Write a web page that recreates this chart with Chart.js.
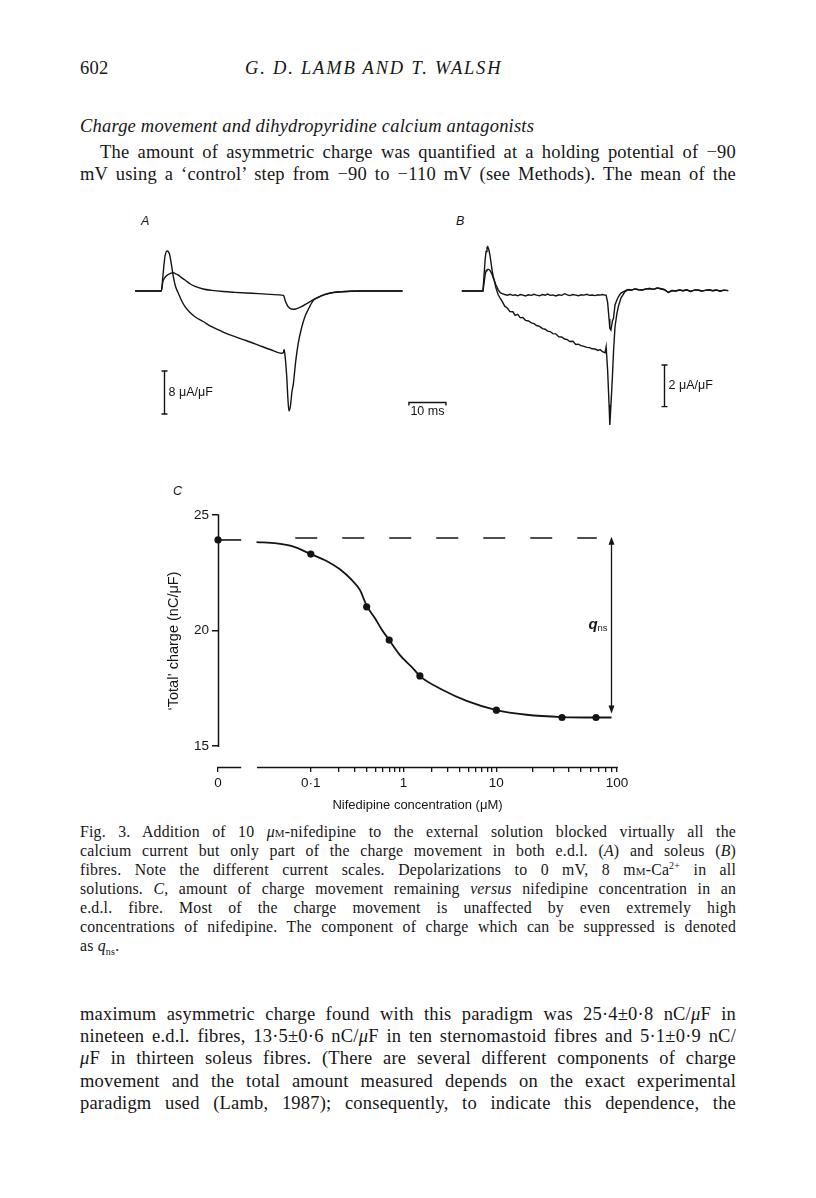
<!DOCTYPE html>
<html>
<head>
<meta charset="utf-8">
<script src="https://cdn.jsdelivr.net/npm/chart.js@4.4.1/dist/chart.umd.min.js"></script>
<style>
  body { margin: 0; background: #fff; }
  #page { position: relative; width: 816px; height: 1198px; background: #fff; color: #161616;
          font-family: "Liberation Serif", "Times New Roman", serif; overflow: hidden; }
  .ln { position: absolute; left: 80px; width: 656px; height: 22px; line-height: 22px; font-size: 18.5px;
        letter-spacing: 0.2px; text-align: justify; text-align-last: justify; white-space: nowrap; }
  .cap { font-size: 15.8px; height: 19px; line-height: 19px; letter-spacing: 0.2px; }
  .plain { text-align: left; text-align-last: left; width: auto; }
  .it { font-style: italic; }
  .sc { font-variant: small-caps; }
  sub, sup { line-height: 0; }
  .panel { position: absolute; font: italic 12.5px "Liberation Sans", Arial, sans-serif; color: #161616; }
  canvas { position: absolute; }
</style>
</head>
<body>
<div id="page">
  <div class="ln plain" style="top:57px">602</div>
  <div class="ln plain it" style="top:57px;left:245px;letter-spacing:1.8px">G. D. LAMB AND T. WALSH</div>
  <div class="ln plain it" style="top:115px">Charge movement and dihydropyridine calcium antagonists</div>
  <div class="ln" style="top:141px;left:100px;width:636px">The amount of asymmetric charge was quantified at a holding potential of −90</div>
  <div class="ln" style="top:163px">mV using a ‘control’ step from −90 to −110 mV (see Methods). The mean of the</div>

  <div class="panel" style="left:141px;top:214px">A</div>
  <div class="panel" style="left:456px;top:214px">B</div>
  <div class="panel" style="left:173px;top:484px">C</div>

  <canvas id="chartA" width="280" height="190" style="left:125px;top:235px"></canvas>
  <canvas id="chartB" width="340" height="200" style="left:400px;top:235px"></canvas>
  <canvas id="chartC" width="490" height="340" style="left:150px;top:480px"></canvas>

  <div class="ln cap" style="top:822px">Fig. 3. Addition of 10 <i>μ</i><span class="sc">m</span>-nifedipine to the external solution blocked virtually all the</div>
  <div class="ln cap" style="top:841px">calcium current but only part of the charge movement in both e.d.l. (<i>A</i>) and soleus (<i>B</i>)</div>
  <div class="ln cap" style="top:860px">fibres. Note the different current scales. Depolarizations to 0 mV, 8 m<span class="sc">m</span>-Ca<sup style="font-size:10px">2+</sup> in all</div>
  <div class="ln cap" style="top:879px">solutions. <i>C</i>, amount of charge movement remaining <i>versus</i> nifedipine concentration in an</div>
  <div class="ln cap" style="top:898px">e.d.l. fibre. Most of the charge movement is unaffected by even extremely high</div>
  <div class="ln cap" style="top:917px">concentrations of nifedipine. The component of charge which can be suppressed is denoted</div>
  <div class="ln cap plain" style="top:936px">as <i>q</i><sub style="font-size:10px">ns</sub>.</div>

  <div class="ln" style="top:1003px">maximum asymmetric charge found with this paradigm was 25·4±0·8 nC/<i>μ</i>F in</div>
  <div class="ln" style="top:1025px">nineteen e.d.l. fibres, 13·5±0·6 nC/<i>μ</i>F in ten sternomastoid fibres and 5·1±0·9 nC/</div>
  <div class="ln" style="top:1047px"><i>μ</i>F in thirteen soleus fibres. (There are several different components of charge</div>
  <div class="ln" style="top:1070px">movement and the total amount measured depends on the exact experimental</div>
  <div class="ln" style="top:1092px">paradigm used (Lamb, 1987); consequently, to indicate this dependence, the</div>
</div>

<script>
const ink = "#141414";
Chart.defaults.font.family = '"Liberation Sans", Arial, sans-serif';
Chart.defaults.color = ink;

// ---- A: e.d.l. fibre, current (uA/uF) vs time from step onset (ms) ----
const aTime = [-7.2, -0.1, 0.35, 0.9, 1.5, 2.1, 2.65, 3.15, 3.7, 4.5,
	5.35, 6.3, 7.65, 9.0, 11.2, 13.5, 16.6, 19.8, 22.8, 26.1,
	29.3, 32.4, 32.9, 33.1, 33.4, 33.8, 34.1, 34.4, 34.8, 35.2,
	35.6, 36.2, 36.9, 37.8, 38.7, 39.8, 41.0, 42.5, 44.1, 46.3,
	48.6, 53.1, 65.1];
const aNifedipine = [0, 0, 1.86, 2.55, 2.95, 3.2, 3.33, 3.41, 3.25, 2.95,
	2.5, 2.05, 1.35, 0.85, 0.38, 0.12, -0.1, -0.25, -0.37, -0.49,
	-0.62, -0.76, -0.8, -1.1, -1.8, -2.45, -2.85, -3.05, -3.28, -3.36,
	-3.41, -3.34, -3.18, -2.9, -2.55, -2.1, -1.6, -1.08, -0.64, -0.28,
	-0.13, 0, 0];
const aControl = [0, 0, 2.98, 6.52, 7.45, 6.89, 4.84, 2.66, 0.93, -0.43,
	-1.77, -2.92, -4.0, -4.79, -5.68, -6.65, -7.64, -8.51, -9.22, -10.06,
	-10.89, -11.6, -11.45, -10.86, -12.48, -15.96, -19.93, -22.35, -21.4, -18.8,
	-17.19, -13.2, -9.74, -6.89, -4.79, -3.17, -1.75, -1.15, -0.68, -0.3,
	-0.13, 0, 0];

// ---- B: soleus fibre ----
const bTime = [-5.8, -0.1, 0.3, 0.5, 0.75, 1.0, 1.2, 1.5, 1.8, 2.1,
	2.4, 2.7, 3.0, 3.4, 4.0, 4.6, 5.1, 5.8, 6.5, 7.2,
	8.0, 8.6, 9.3, 10, 10.7, 11.4, 12.2, 13, 13.7, 14.4,
	15.2, 16, 16.7, 17.4, 18.1, 18.8, 19.6, 20.4, 21.2, 22,
	22.7, 23.4, 24.2, 25, 25.7, 26.4, 27.2, 28, 28.7, 29.4,
	30.2, 31, 31.6, 32.2, 32.9, 33.2, 33.6, 34.0, 34.2, 34.5,
	34.9, 35.2, 35.6, 36.1, 36.5, 37.2, 38.3, 39.1, 40, 41,
	42, 43, 44, 45, 46, 47, 48, 49, 50, 51,
	52, 53, 54, 55, 56, 57, 58, 59, 60, 61,
	62, 63, 64, 65, 66.2];
const bNifedipine = [0, 0, 0.5, 0.78, 0.97, 1.02, 1.04, 1.04, 0.99, 0.9,
	0.78, 0.63, 0.49, 0.3, 0.07, -0.08, -0.13, -0.17, -0.2, -0.16,
	-0.21, -0.18, -0.23, -0.17, -0.2, -0.24, -0.18, -0.21, -0.16, -0.2,
	-0.23, -0.17, -0.2, -0.15, -0.21, -0.19, -0.24, -0.18, -0.21, -0.13,
	-0.19, -0.22, -0.17, -0.2, -0.23, -0.18, -0.2, -0.16, -0.21, -0.19,
	-0.22, -0.18, -0.2, -0.17, -0.2, -0.2, -0.55, -1.35, -1.79, -1.88,
	-1.44, -1.3, -0.67, -0.43, -0.28, -0.1, 0, 0.07, 0.04, 0.1,
	0.06, 0.05, 0.1, 0.12, 0.08, 0.14, 0.11, 0.06, -0.07, 0.02,
	0, 0.05, 0.01, 0.06, -0.02, 0.04, 0.05, 0, 0.03, 0.06,
	0.01, 0.05, -0.01, 0.04, 0.02];
const bControl = [0, 0, 1.0, 1.5, 1.9, 2.08, 2.13, 1.98, 1.73, 1.35,
	0.97, 0.69, 0.48, 0.16, -0.17, -0.36, -0.5, -0.73, -0.82, -0.99,
	-1.0, -1.17, -1.12, -1.29, -1.27, -1.41, -1.44, -1.53, -1.57, -1.66,
	-1.7, -1.81, -1.84, -1.93, -1.95, -2.05, -2.06, -2.2, -2.21, -2.31,
	-2.34, -2.43, -2.42, -2.57, -2.56, -2.63, -2.66, -2.71, -2.72, -2.78,
	-2.79, -2.86, -2.82, -2.92, -2.97, -2.68, -3.8, -5.48, -6.44, -5.48,
	-4.12, -2.9, -1.72, -1.1, -0.75, -0.34, -0.03, 0.05, 0.04, 0.1,
	0.06, 0.05, 0.1, 0.12, 0.08, 0.14, 0.11, 0.06, -0.07, 0.02,
	0, 0.05, 0.01, 0.06, -0.02, 0.04, 0.05, 0, 0.03, 0.06,
	0.01, 0.05, -0.01, 0.04, 0.02];

// scale bars (values in the units of each panel)
const aScaleBar = { t: 0.6, top: -14.9, size: 8, label: "8 μA/μF" };
const bScaleBar = { t: 48.9, top: -3.56, size: 2, label: "2 μA/μF" };
const timeBar = { start: -20.1, size: 10, level: -5.34, label: "10 ms" };

// ---- C: 'total' charge vs nifedipine concentration ----
const nifConc = [0, 0.1, 0.4, 0.7, 1.5, 10, 35, 67];
const totalCharge = [23.92, 23.31, 21.03, 19.59, 18.04, 16.56, 16.24, 16.24];
const fitConc = [0.026, 0.043, 0.065, 0.1, 0.148, 0.206, 0.276, 0.339, 0.4, 0.492,
	0.581, 0.7, 0.914, 1.27, 1.5, 2.68, 4.78, 10, 17.8, 35, 66.5, 90];
const fitCharge = [23.83, 23.77, 23.63, 23.31, 23.01, 22.65, 22.19, 21.75, 21.08, 20.53,
	20.05, 19.59, 18.94, 18.36, 18.03, 17.42, 16.96, 16.56, 16.36, 16.26, 16.24, 16.24];
const controlLevel = 24.0;
const controlSpan = [0.068, 68];
const qnsRange = [24.06, 16.41];
const majorConc = [0, 0.1, 1, 10, 100];
const majorLabels = ["0", "0·1", "1", "10", "100"];
const yTicks = [15, 20, 25];

// the 10-100 decade is drawn wider than the others on the original axis
const stretch = 1.3;
const axisPos = c =>
	c === 0 ? -2 : c <= 10 ? Math.log10(c) : 1 + stretch * Math.log10(c / 10);
const xBreak = [-1.75, -1.58];

const pairs = (xs, ys, f = v => v) => xs.map((x, i) => ({ x: f(x), y: ys[i] }));

const traceSet = (data, smooth) => ({
	data,
	borderColor: ink,
	borderWidth: 1.4,
	pointRadius: 0,
	cubicInterpolationMode: smooth ? "monotone" : "default",
	tension: 0,
	clip: false,
});

const barsPlugin = (vBar, hBar) => ({
	id: "bars",
	afterDatasetsDraw(chart) {
		const { ctx, scales: { x, y } } = chart;
		ctx.save();
		ctx.strokeStyle = ink;
		ctx.fillStyle = ink;
		ctx.lineWidth = 1.4;
		ctx.font = '12.5px "Liberation Sans", Arial, sans-serif';
		ctx.textBaseline = "middle";

		const bx = Math.round(x.getPixelForValue(vBar.t)) + 0.5;
		const y1 = y.getPixelForValue(vBar.top);
		const y2 = y.getPixelForValue(vBar.top - vBar.size);
		ctx.beginPath();
		ctx.moveTo(bx, y1); ctx.lineTo(bx, y2);
		ctx.moveTo(bx - 3, y1); ctx.lineTo(bx + 3, y1);
		ctx.moveTo(bx - 3, y2); ctx.lineTo(bx + 3, y2);
		ctx.stroke();
		ctx.fillText(vBar.label, bx + 4, (y1 + y2) / 2);

		if (hBar) {
			const hy = Math.round(y.getPixelForValue(hBar.level)) + 0.5;
			const x1 = x.getPixelForValue(hBar.start);
			const x2 = x.getPixelForValue(hBar.start + hBar.size);
			ctx.beginPath();
			ctx.moveTo(x1, hy + 3); ctx.lineTo(x1, hy); ctx.lineTo(x2, hy); ctx.lineTo(x2, hy + 3);
			ctx.stroke();
			ctx.textAlign = "center";
			ctx.fillText(hBar.label, (x1 + x2) / 2, hy + 9);
		}
		ctx.restore();
	},
});

const traceOptions = (xmin, xmax, ymin, ymax) => ({
	responsive: false,
	animation: false,
	events: [],
	layout: { padding: 0 },
	scales: {
		x: { type: "linear", display: false, min: xmin, max: xmax },
		y: { type: "linear", display: false, min: ymin, max: ymax },
	},
	plugins: { legend: { display: false }, tooltip: { enabled: false } },
});

new Chart(document.getElementById("chartA"), {
	type: "line",
	data: {
		datasets: [
			traceSet(pairs(aTime, aNifedipine), true),
			traceSet(pairs(aTime, aControl), true),
		],
	},
	options: traceOptions(-9.92, 65.76, -24.95, 10.43),
	plugins: [barsPlugin(aScaleBar)],
});

new Chart(document.getElementById("chartB"), {
	type: "line",
	data: {
		datasets: [
			traceSet(pairs(bTime, bNifedipine), false),
			traceSet(pairs(bTime, bControl), false),
		],
	},
	options: traceOptions(-22.51, 69.38, -6.923, 2.692),
	plugins: [barsPlugin(bScaleBar, timeBar)],
});

const labelFor = new Map(majorConc.map((c, i) => [axisPos(c).toFixed(3), majorLabels[i]]));
const minorPos = [];
[0.1, 1, 10].forEach(d => {
	for (let k = 2; k <= 9; k++) minorPos.push(axisPos(k * d));
});

const brokenAxes = {
	id: "brokenAxes",
	afterDatasetsDraw(chart) {
		const { ctx, chartArea, scales: { x, y } } = chart;
		ctx.save();
		ctx.strokeStyle = ink;
		ctx.fillStyle = ink;
		ctx.lineWidth = 1.5;
		const left = Math.round(chartArea.left) + 0.5;
		const bottom = Math.round(chartArea.bottom) + 0.5;
		ctx.beginPath();
		ctx.moveTo(left, y.getPixelForValue(yTicks[0]) + 0.75);
		ctx.lineTo(left, y.getPixelForValue(yTicks[yTicks.length - 1]) - 0.75);
		ctx.moveTo(x.getPixelForValue(axisPos(0)) - 0.75, bottom);
		ctx.lineTo(x.getPixelForValue(xBreak[0]), bottom);
		ctx.moveTo(x.getPixelForValue(xBreak[1]), bottom);
		ctx.lineTo(x.getPixelForValue(axisPos(100)) + 0.75, bottom);
		ctx.stroke();

		// q_ns double arrow
		const ax = Math.round(chartArea.right - 6) + 0.5;
		const top = y.getPixelForValue(qnsRange[0]);
		const bot = y.getPixelForValue(qnsRange[1]);
		ctx.lineWidth = 1.3;
		ctx.beginPath();
		ctx.moveTo(ax, top + 4); ctx.lineTo(ax, bot - 4);
		ctx.stroke();
		ctx.beginPath();
		ctx.moveTo(ax, top); ctx.lineTo(ax - 3, top + 8); ctx.lineTo(ax + 3, top + 8); ctx.closePath();
		ctx.moveTo(ax, bot); ctx.lineTo(ax - 3, bot - 8); ctx.lineTo(ax + 3, bot - 8); ctx.closePath();
		ctx.fill();

		const ly = y.getPixelForValue((qnsRange[0] + qnsRange[1]) / 2 - 0.15);
		ctx.textBaseline = "alphabetic";
		ctx.font = 'italic bold 15px "Liberation Sans", Arial, sans-serif';
		ctx.fillText("q", ax - 23, ly);
		ctx.font = '9.5px "Liberation Sans", Arial, sans-serif';
		ctx.fillText("ns", ax - 14, ly + 2);
		ctx.restore();
	},
};

new Chart(document.getElementById("chartC"), {
	type: "line",
	data: {
		datasets: [
			{
				data: [
					{ x: axisPos(nifConc[0]), y: totalCharge[0] },
					{ x: xBreak[0], y: totalCharge[0] },
				],
				borderColor: ink, borderWidth: 1.6, pointRadius: 0, clip: false,
			},
			{
				data: pairs(controlSpan, [controlLevel, controlLevel], axisPos),
				borderColor: ink, borderWidth: 1.5, pointRadius: 0, borderDash: [22, 25], clip: false,
			},
			{
				data: pairs(fitConc, fitCharge, axisPos),
				borderColor: ink, borderWidth: 1.8, pointRadius: 0,
				cubicInterpolationMode: "monotone", clip: false,
			},
			{
				data: pairs(nifConc, totalCharge, axisPos),
				showLine: false, pointRadius: 3.6, pointBackgroundColor: ink,
				pointBorderColor: ink, pointBorderWidth: 0, clip: false,
			},
		],
	},
	options: {
		responsive: false,
		animation: false,
		events: [],
		layout: { padding: { top: 35, right: 23, left: 0, bottom: 0 } },
		scales: {
			x: {
				type: "linear",
				min: axisPos(0),
				max: axisPos(100),
				afterFit: s => { s.height = 53; },
				afterBuildTicks: s => {
					s.ticks = [...majorConc.map(axisPos), ...minorPos]
						.sort((a, b) => a - b)
						.map(v => ({ value: v }));
				},
				border: { display: false },
				grid: { drawOnChartArea: false, drawTicks: true, tickLength: 5, color: ink, lineWidth: 1.3 },
				ticks: {
					autoSkip: false, maxRotation: 0, padding: 3,
					font: { size: 13.5 },
					callback: v => labelFor.get(v.toFixed(3)) ?? "",
				},
				title: {
					display: true,
					text: "Nifedipine concentration (μM)",
					font: { size: 13 },
					padding: { top: 0, bottom: 7 },
				},
			},
			y: {
				type: "linear",
				min: 14.1,
				max: 25,
				afterFit: s => { s.width = 68; },
				afterBuildTicks: s => { s.ticks = yTicks.map(v => ({ value: v })); },
				border: { display: false },
				grid: { drawOnChartArea: false, drawTicks: true, tickLength: 6, color: ink, lineWidth: 1.5 },
				ticks: { padding: 3, font: { size: 13.5 } },
				title: {
					display: true,
					text: "‘Total’ charge (nC/μF)",
					font: { size: 14.5 },
					padding: { top: 15, bottom: 0 },
				},
			},
		},
		plugins: { legend: { display: false }, tooltip: { enabled: false } },
	},
	plugins: [brokenAxes],
});
</script>
</body>
</html>
